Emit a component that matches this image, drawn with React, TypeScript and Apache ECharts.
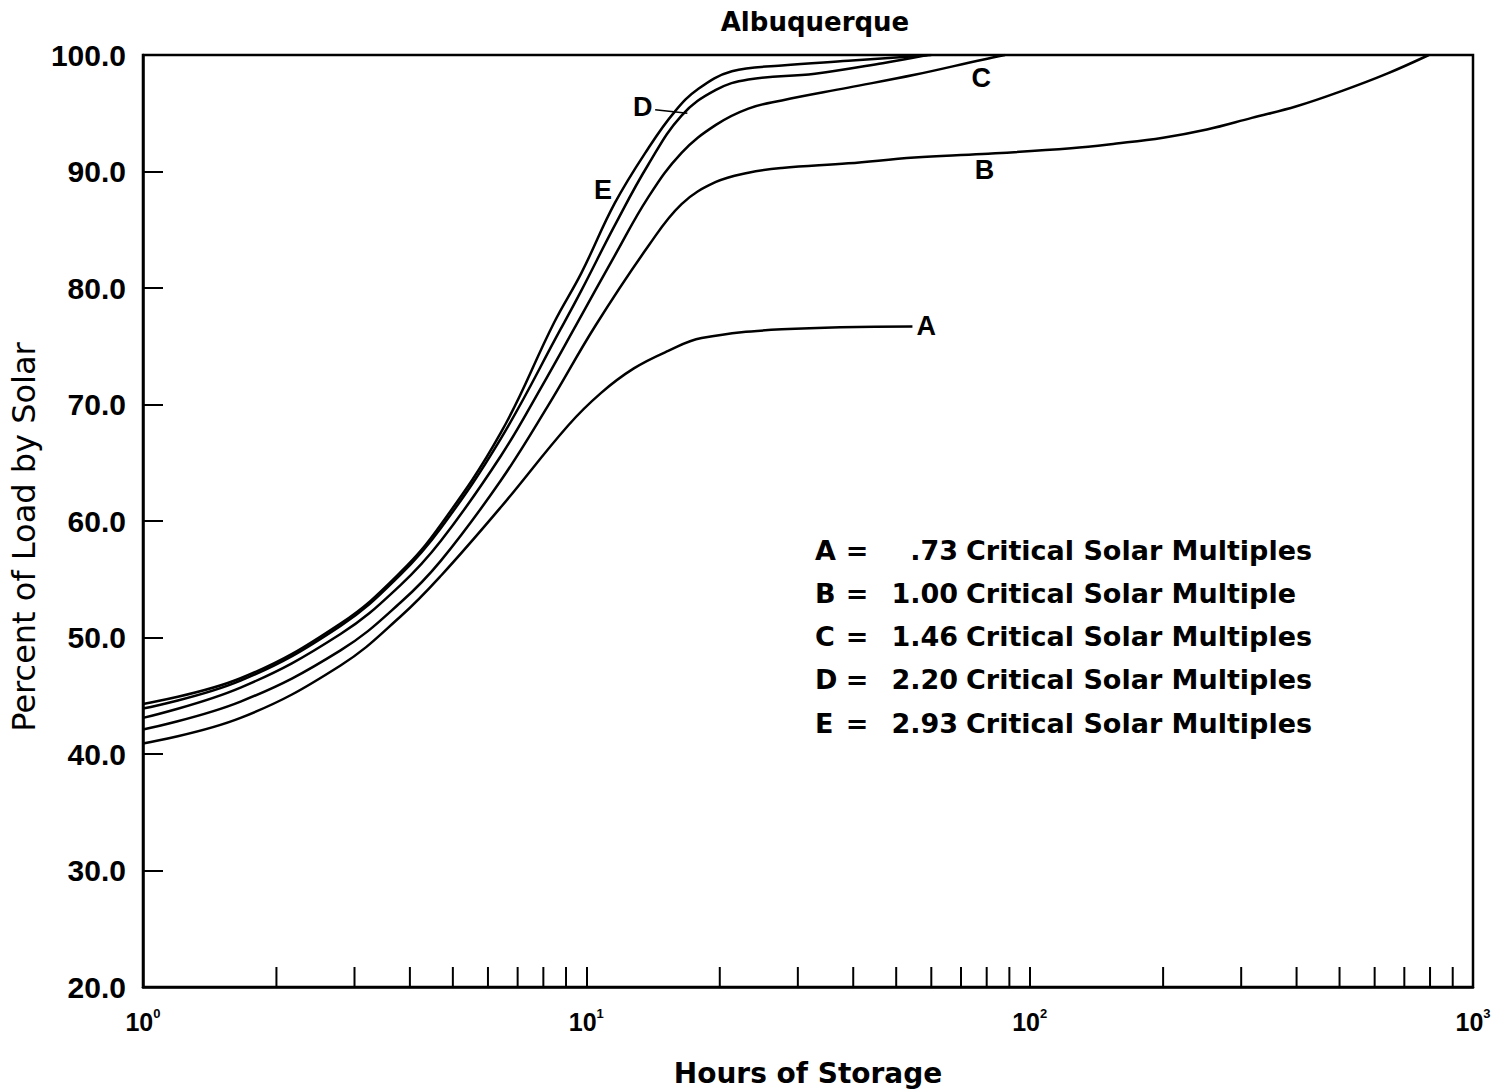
import React, { useEffect, useRef } from "react";
import * as echarts from "echarts";

// ---- Data ----
const hoursA = [1, 1.66, 2.79, 3.81, 4.7, 6.42, 9.1, 10.8, 12.8, 15.3, 18.2, 27.6, 54.4];
const valuesA = [40.9, 43.1, 47.6, 51.8, 55.3, 61.2, 68.2, 71.0, 73.1, 74.6, 75.7, 76.45, 76.7];

const hoursB = [1, 1.66, 2.79, 3.81, 4.7, 6.42, 8.2, 10.5, 13.8, 16.4, 19.6, 23.2, 27.6, 39, 55, 78.3, 124, 157, 200, 251, 317, 400, 505, 640, 795];
const valuesB = [42.1, 44.5, 48.9, 53.0, 56.6, 63.5, 69.9, 76.8, 83.6, 87.2, 89.1, 89.9, 90.3, 90.7, 91.2, 91.5, 92.0, 92.4, 92.9, 93.6, 94.6, 95.6, 96.9, 98.4, 100];

const hoursC = [1, 1.66, 2.79, 3.81, 4.7, 6.42, 7.92, 9.51, 11.6, 13.8, 16.4, 19.6, 23.2, 27.6, 39, 55, 78.3, 88];
const valuesC = [43.1, 45.7, 50.3, 54.5, 58.3, 65.6, 71.5, 76.9, 82.8, 87.8, 91.6, 94.0, 95.4, 96.1, 97.2, 98.3, 99.6, 100];

const hoursD = [1, 1.66, 2.79, 3.81, 4.7, 6.42, 8.73, 9.75, 11.6, 13.8, 16.4, 19.6, 23.2, 32.8, 46.6, 58.8];
const valuesD = [43.9, 46.3, 51.0, 55.4, 59.4, 67.1, 76.4, 79.8, 85.4, 90.6, 94.8, 97.0, 97.9, 98.4, 99.3, 100];

const hoursE = [1, 1.66, 2.79, 3.81, 4.7, 6.42, 8.45, 9.75, 11.6, 13.8, 15.8, 17.9, 21.3, 27.6, 39, 55, 60];
const valuesE = [44.3, 46.5, 51.2, 55.6, 59.7, 67.6, 77.0, 81.3, 87.3, 92.0, 95.1, 97.1, 98.6, 99.1, 99.5, 99.9, 100];

const minorTickHours = [2, 3, 4, 5, 6, 7, 8, 9, 20, 30, 40, 50, 60, 70, 80, 90, 200, 300, 400, 500, 600, 700, 800, 900];

const xMin = 1;
const xMax = 1000;
const yMin = 20;
const yMax = 100;
const yInterval = 10;

// curve letter labels (data coordinates: hours, percent)
const labelB = [79.1, 90.1];
const labelC = [77.8, 98.0];
const labelD = [13.4, 95.5];
const labelE = [10.9, 88.4];
const leaderDStart = [14.3, 95.3];
const leaderDEnd = [16.9, 95.0];

const legendLetters = ["A", "B", "C", "D", "E"];
const legendMultiples = [".73", "1.00", "1.46", "2.20", "2.93"];
const legendWords = [
  "Critical Solar Multiples",
  "Critical Solar Multiple",
  "Critical Solar Multiples",
  "Critical Solar Multiples",
  "Critical Solar Multiples",
];

const titleText = "Albuquerque";
const xName = "Hours of Storage";
const yName = "Percent of Load by Solar";

const LETTER_FONT = { fontFamily: "Liberation Sans", fontWeight: "bold" as const, fontSize: 27, color: "#000" };

function pointLabel(coord: number[], text: string) {
  return {
    coord,
    name: text,
    symbol: "circle",
    symbolSize: 1,
    itemStyle: { color: "rgba(0,0,0,0)" },
    label: { show: true, position: "inside", formatter: text, ...LETTER_FONT },
  };
}

export default function App() {
  const ref = useRef<HTMLDivElement>(null);

  useEffect(() => {
    if (!ref.current) return;
    const chart = echarts.init(ref.current, undefined, { renderer: "svg" });

    const lineBase = {
      type: "line" as const,
      showSymbol: false,
      smooth: 0.4,
      lineStyle: { color: "#000", width: 2.5 },
      itemStyle: { color: "#000" },
      z: 3,
    };
    const toPairs = (h: number[], v: number[]) => h.map((x, i) => [x, v[i]]);

    const legendGraphics: any[] = [];
    legendLetters.forEach((letter, i) => {
      const y = 550 + 43.3 * i;
      const font = 'bold 27px "DejaVu Sans"';
      legendGraphics.push(
        { type: "text", x: 815, y, style: { text: letter, font, fill: "#000", align: "left", verticalAlign: "middle" } },
        { type: "text", x: 857, y, style: { text: "=", font, fill: "#000", align: "center", verticalAlign: "middle" } },
        { type: "text", x: 958, y, style: { text: legendMultiples[i], font, fill: "#000", align: "right", verticalAlign: "middle" } },
        { type: "text", x: 966, y, style: { text: legendWords[i], font, fill: "#000", align: "left", verticalAlign: "middle" } }
      );
    });

    chart.setOption({
      animation: false,
      backgroundColor: "#fff",
      grid: {
        left: 139,
        right: 37,
        top: 55,
        bottom: 104,
        show: true,
        borderColor: "#000",
        borderWidth: 2.5,
        backgroundColor: "transparent",
      },
      xAxis: {
        type: "log",
        logBase: 10,
        min: xMin,
        max: xMax,
        name: xName,
        nameLocation: "middle",
        nameGap: 72,
        nameTextStyle: { fontFamily: "DejaVu Sans", fontWeight: "bold", fontSize: 28, color: "#000" },
        axisLine: { show: true, lineStyle: { color: "#000", width: 2.5 } },
        axisTick: { show: true, inside: true, length: 20, lineStyle: { color: "#000", width: 2 } },
        minorTick: { show: false },
        splitLine: { show: false },
        axisLabel: {
          margin: 20,
          formatter: (v: number) => `{b|10}{s|${Math.round(Math.log10(v))}}`,
          rich: {
            b: { fontFamily: "Liberation Sans", fontWeight: "bold", fontSize: 25, color: "#000", lineHeight: 30 },
            s: { fontFamily: "Liberation Sans", fontWeight: "bold", fontSize: 13, color: "#000", verticalAlign: "top", lineHeight: 13 },
          },
        },
      },
      yAxis: {
        type: "value",
        min: yMin,
        max: yMax,
        interval: yInterval,
        name: yName,
        nameLocation: "middle",
        nameGap: 98,
        nameTextStyle: { fontFamily: "DejaVu Sans", fontSize: 32, color: "#000", padding: [0, 32, 0, 0] },
        axisLine: { show: true, lineStyle: { color: "#000", width: 2.5 } },
        axisTick: { show: true, inside: true, length: 20, lineStyle: { color: "#000", width: 2 } },
        splitLine: { show: false },
        axisLabel: {
          margin: 17,
          formatter: (v: number) => v.toFixed(1),
          fontFamily: "Liberation Sans",
          fontWeight: "bold",
          fontSize: 30,
          color: "#000",
        },
      },
      graphic: [
        {
          type: "text",
          x: 815,
          y: 22,
          style: { text: titleText, font: 'bold 26px "DejaVu Sans"', fill: "#000", align: "center", verticalAlign: "middle" },
        },
        ...legendGraphics,
      ],
      series: [
        {
          ...lineBase,
          name: "A",
          data: toPairs(hoursA, valuesA),
          endLabel: { show: true, formatter: "A", distance: 4, ...LETTER_FONT },
        },
        {
          ...lineBase,
          name: "B",
          data: toPairs(hoursB, valuesB),
          markPoint: { silent: true, data: [pointLabel(labelB, "B")] },
        },
        {
          ...lineBase,
          name: "C",
          data: toPairs(hoursC, valuesC),
          markPoint: { silent: true, data: [pointLabel(labelC, "C")] },
        },
        {
          ...lineBase,
          name: "D",
          data: toPairs(hoursD, valuesD),
          markPoint: { silent: true, data: [pointLabel(labelD, "D")] },
          markLine: {
            silent: true,
            symbol: ["none", "none"],
            label: { show: false },
            lineStyle: { color: "#000", width: 1.5, type: "solid" },
            data: [[{ coord: leaderDStart }, { coord: leaderDEnd }]],
          },
        },
        {
          ...lineBase,
          name: "E",
          data: toPairs(hoursE, valuesE),
          markPoint: { silent: true, data: [pointLabel(labelE, "E")] },
        },
        {
          type: "custom",
          name: "minorTicks",
          silent: true,
          clip: false,
          z: 4,
          data: minorTickHours.map((h) => [h, yMin]),
          renderItem: (_params: any, api: any) => {
            const p = api.coord([api.value(0), api.value(1)]);
            return {
              type: "line",
              shape: { x1: p[0], y1: p[1], x2: p[0], y2: p[1] - 20 },
              style: { stroke: "#000", lineWidth: 2 },
            };
          },
        },
      ],
    });

    return () => chart.dispose();
  }, []);

  return (
    <div
      ref={ref}
      style={{ position: "absolute", left: 0, top: 0, width: 1510, height: 1092, background: "#fff" }}
    />
  );
}
